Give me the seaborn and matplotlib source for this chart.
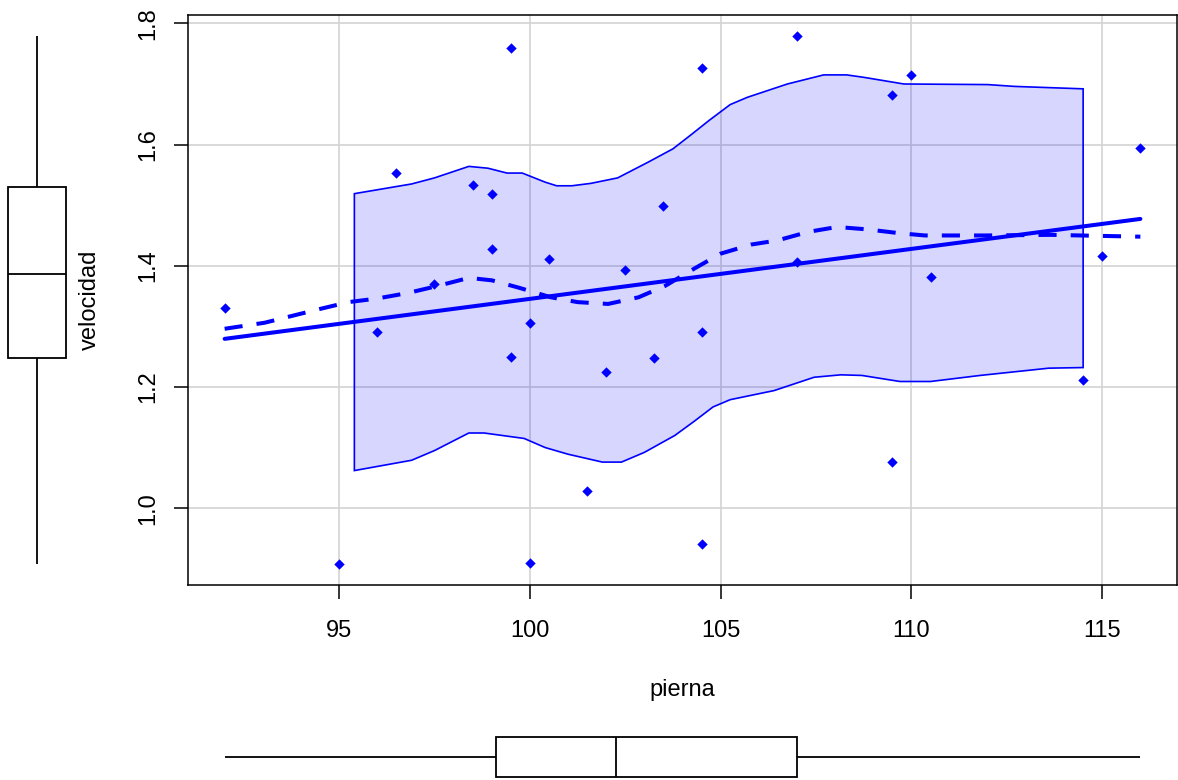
import numpy as np
import pandas as pd
import matplotlib
matplotlib.use("Agg")
import matplotlib.pyplot as plt
import seaborn as sns

# Leg length (cm) and walking speed (m/s)
pierna = [92.0, 95.0, 96.0, 96.5, 97.5, 98.5, 99.0, 99.0, 99.5, 99.5,
          100.0, 100.0, 100.5, 101.5, 102.0, 102.5, 103.25, 103.5, 104.5, 104.5,
          104.5, 107.0, 107.0, 109.5, 109.5, 110.0, 110.5, 114.5, 115.0, 116.0]
velocidad = [1.330, 0.908, 1.290, 1.553, 1.370, 1.533, 1.518, 1.427, 1.760, 1.250,
             1.306, 0.909, 1.411, 1.029, 1.224, 1.393, 1.247, 1.498, 1.726, 1.290,
             0.940, 1.779, 1.407, 1.681, 1.076, 1.714, 1.381, 1.211, 1.416, 1.594]

# Nonparametric (loess) fit of velocidad on pierna
loess_x = [92.0, 93.05, 94.45, 95.25, 96.0, 96.8, 97.6, 98.4, 99.0, 99.7,
           100.55, 101.25, 102.05, 102.85, 103.55, 104.3, 105.0, 105.8, 106.5, 107.3,
           108.05, 108.85, 109.65, 110.35, 111.9, 113.65, 116.0]
loess_y = [1.296, 1.306, 1.328, 1.340, 1.346, 1.355, 1.367, 1.380, 1.376, 1.364,
           1.348, 1.340, 1.337, 1.348, 1.367, 1.395, 1.420, 1.435, 1.442, 1.456,
           1.464, 1.460, 1.454, 1.450, 1.450, 1.451, 1.448]

# Conditional spread band around the smoother
upper_x = [95.4, 96.9, 97.5, 98.4, 98.9, 99.4, 99.8, 100.4, 100.7, 101.1,
           101.6, 102.3, 103.1, 103.75, 104.2, 104.7, 105.25, 105.7, 106.75, 107.7,
           108.3, 108.75, 109.8, 112.0, 112.7, 113.6, 114.5]
upper_y = [1.519, 1.535, 1.545, 1.564, 1.561, 1.553, 1.553, 1.538, 1.532, 1.532,
           1.536, 1.545, 1.571, 1.593, 1.615, 1.640, 1.666, 1.678, 1.700, 1.715,
           1.715, 1.711, 1.700, 1.699, 1.696, 1.694, 1.692]
lower_x = [95.4, 96.9, 97.5, 98.4, 98.8, 99.85, 100.4, 101.0, 101.9, 102.4,
           103.0, 103.8, 104.3, 104.8, 105.25, 106.4, 107.45, 108.15, 108.7, 109.7,
           110.5, 111.8, 112.7, 113.6, 114.5]
lower_y = [1.062, 1.079, 1.095, 1.124, 1.124, 1.115, 1.100, 1.089, 1.076, 1.076,
           1.092, 1.120, 1.143, 1.167, 1.179, 1.194, 1.216, 1.220, 1.219, 1.209,
           1.209, 1.219, 1.225, 1.231, 1.232]

x_ticks = [95, 100, 105, 110, 115]
y_ticks = [1.0, 1.2, 1.4, 1.6, 1.8]
y_tick_labels = ["1.0", "1.2", "1.4", "1.6", "1.8"]

sns.set_style("white")
plt.rcParams["font.family"] = ["Liberation Sans", "DejaVu Sans"]
plt.rcParams["text.color"] = "black"
plt.rcParams["axes.labelcolor"] = "black"

BLUE = "#0000ff"
FS = 17
W, H = 1178, 780


def rect(l, t, r, b):
    return [l / W, 1 - b / H, (r - l) / W, (b - t) / H]


fig = plt.figure(figsize=(W / 100, H / 100), dpi=100)
fig.patch.set_facecolor("white")
ax = fig.add_axes(rect(188, 15, 1177, 585))
axl = fig.add_axes(rect(0, 15, 74, 585))
axb = fig.add_axes(rect(188, 727, 1177, 780))

df = pd.DataFrame({"pierna": pierna, "velocidad": velocidad})

# limits with 4% padding around the data
xr = max(pierna) - min(pierna)
yr = max(velocidad) - min(velocidad)
xlim = (min(pierna) - 0.04 * xr, max(pierna) + 0.04 * xr)
ylim = (min(velocidad) - 0.04 * yr, max(velocidad) + 0.04 * yr)

ax.grid(True, color="#d3d3d3", lw=1.2)
ax.set_axisbelow(True)

band_x = np.r_[upper_x, lower_x[::-1]]
band_y = np.r_[upper_y, lower_y[::-1]]
ax.fill(band_x, band_y, facecolor=(0, 0, 1, 0.16), edgecolor=BLUE, lw=1.2, zorder=1.5)

sns.regplot(data=df, x="pierna", y="velocidad", scatter=False, ci=None,
            color=BLUE, line_kws=dict(lw=2.9, zorder=3), ax=ax)
sns.lineplot(x=loess_x, y=loess_y, ax=ax, color=BLUE, lw=2.9,
             linestyle=(0, (4.5, 3.5)), zorder=3)
sns.scatterplot(data=df, x="pierna", y="velocidad", marker="D", s=28,
                color=BLUE, linewidth=0, ax=ax, zorder=4)

ax.set_xlim(*xlim)
ax.set_ylim(*ylim)
ax.set_xticks(x_ticks)
ax.set_xticklabels([str(t) for t in x_ticks])
ax.set_yticks(y_ticks)
ax.set_yticklabels(y_tick_labels, rotation=90, va="center")
ax.tick_params(axis="both", direction="out", length=10, width=1.1,
               labelsize=FS, color="black", labelcolor="black",
               bottom=True, left=True)
ax.tick_params(axis="x", pad=15)
ax.tick_params(axis="y", pad=11)
for s in ax.spines.values():
    s.set_visible(True)
    s.set_color("black")
    s.set_linewidth(1.1)

ax.set_xlabel("pierna", fontsize=FS, color="black")
ax.xaxis.set_label_coords(0.5, -0.184)
ax.xaxis.label.set_va("center")
ax.set_ylabel("velocidad", fontsize=FS, color="black")
ax.yaxis.set_label_coords(-0.0991, 0.5)
ax.yaxis.label.set_va("center")
ax.yaxis.label.set_ha("center")

box_kw = dict(whis=(0, 100), showcaps=False, color="white", linecolor="black",
              linewidth=1.3, fliersize=0)

# marginal boxplot of velocidad
sns.boxplot(y=velocidad, ax=axl, width=0.78, **box_kw)
axl.set_xlim(-0.5, 0.5)
axl.set_ylim(*ylim)
axl.axis("off")

# marginal boxplot of pierna
sns.boxplot(x=pierna, ax=axb, width=0.8, **box_kw)
axb.set_xlim(*xlim)
axb.set_ylim(0.46, -0.6)
axb.axis("off")

fig.savefig("out.png", dpi=100, facecolor="white")
